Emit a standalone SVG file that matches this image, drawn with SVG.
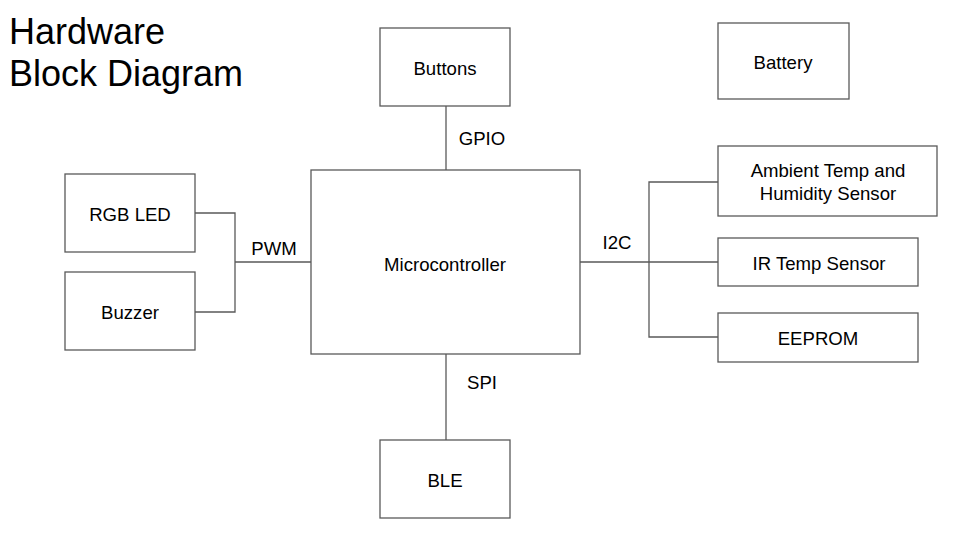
<svg xmlns="http://www.w3.org/2000/svg" width="960" height="540" viewBox="0 0 960 540">
<style>
.box{fill:#fff;stroke:#595959;stroke-width:1.3}
.lbl{font-family:"Liberation Sans",Arial,sans-serif;font-size:18.6px;fill:#000;text-anchor:middle;dominant-baseline:central}
.wire{fill:none;stroke:#595959;stroke-width:1.3}
.title{font-family:"Liberation Sans",Arial,sans-serif;font-size:36px;fill:#000}
</style>
<rect width="960" height="540" fill="#fff"/>
<text class="title" x="9" y="44">Hardware</text>
<text class="title" x="9" y="86">Block Diagram</text>
<g id="connectors">
<path class="wire" d="M446 106V170"/>
<path class="wire" d="M446 354V440"/>
<path class="wire" d="M195 213H235V312H195M235 262H311"/>
<path class="wire" d="M580 262H718M718 182H649V337H718"/>
<text class="lbl" x="482" y="138">GPIO</text>
<text class="lbl" x="482" y="382">SPI</text>
<text class="lbl" x="274" y="248">PWM</text>
<text class="lbl" x="617" y="242">I2C</text>
</g>
<g id="buttons"><rect class="box" x="380" y="28" width="130" height="78"/><text class="lbl" x="445" y="68">Buttons</text></g>
<g id="battery"><rect class="box" x="718" y="23" width="131" height="76"/><text class="lbl" x="783" y="62">Battery</text></g>
<g id="microcontroller"><rect class="box" x="311" y="170" width="269" height="184"/><text class="lbl" x="445" y="264">Microcontroller</text></g>
<g id="rgbled"><rect class="box" x="65" y="174" width="130" height="78"/><text class="lbl" x="130" y="214">RGB LED</text></g>
<g id="buzzer"><rect class="box" x="65" y="272" width="130" height="78"/><text class="lbl" x="130" y="312">Buzzer</text></g>
<g id="ble"><rect class="box" x="380" y="440" width="130" height="78"/><text class="lbl" x="445" y="480">BLE</text></g>
<g id="ambient"><rect class="box" x="718" y="146" width="219" height="70"/><text class="lbl" x="828" y="170">Ambient Temp and</text><text class="lbl" x="828" y="193">Humidity Sensor</text></g>
<g id="irtemp"><rect class="box" x="718" y="238" width="200" height="48"/><text class="lbl" x="819" y="263">IR Temp Sensor</text></g>
<g id="eeprom"><rect class="box" x="718" y="313" width="200" height="49"/><text class="lbl" x="818" y="338">EEPROM</text></g>
</svg>
